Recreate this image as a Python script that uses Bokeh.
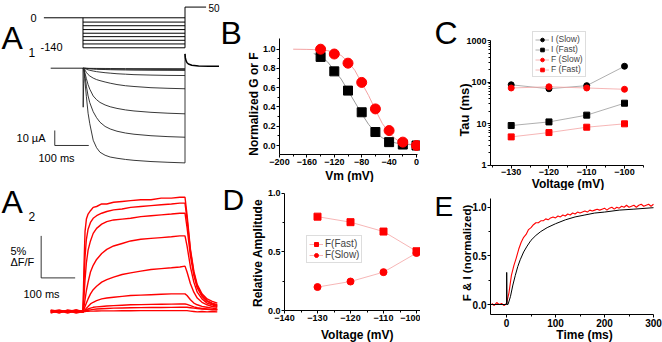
from bokeh.plotting import figure
from bokeh.layouts import row, column
from bokeh.models import Range1d, FixedTicker, NumeralTickFormatter, Label
from bokeh.embed import file_html
from bokeh.resources import INLINE
import math

FONT = "Liberation Sans"
LFONT = "Liberation Sans"

# ---------------- data ----------------
# A1: voltage protocol (mV) and currents (uA), time in ms
A1_STEP_MV = [0, -20, -37, -55, -72, -88, -105, -122, -140]
A1_HOLD_MV = 0
A1_POST_MV = 50
A1_T = [0, 2, 5, 10, 15, 20, 30, 40, 50, 65, 80, 100, 125, 150, 200, 250, 300]
A1_I = [
    [0, -1, -7, -19, -30, -37, -48, -53, -56, -58, -59.2, -60, -60.8, -61.4, -62.2, -62.7, -63.1],
    [0, -0.5, -4, -12, -18.5, -23, -29, -33, -36, -38.8, -40.5, -42, -43.2, -44, -45, -45.6, -46],
    [0, -0.3, -2.5, -7, -11, -14, -18.5, -21, -22.8, -24.5, -25.7, -26.8, -27.8, -28.5, -29.4, -30, -30.4],
    [0, -0.2, -1, -2.8, -4.2, -5.2, -6.6, -7.6, -8.3, -9.2, -10, -10.9, -11.7, -12.2, -13.0, -13.4, -13.7],
    [0, -0.1, -0.3, -0.7, -1.1, -1.4, -1.9, -2.3, -2.6, -3.0, -3.3, -3.7, -4.0, -4.3, -4.6, -4.8, -4.9],
    [0, 0, -0.1, -0.2, -0.3, -0.4, -0.55, -0.7, -0.8, -0.9, -1.0, -1.1, -1.2, -1.3, -1.4, -1.45, -1.5],
    [0, 0, -0.05, -0.1, -0.2, -0.25, -0.35, -0.42, -0.5, -0.55, -0.6, -0.67, -0.73, -0.78, -0.84, -0.88, -0.9],
    [0, 0, 0, -0.05, -0.08, -0.1, -0.13, -0.15, -0.17, -0.19, -0.21, -0.23, -0.25, -0.26, -0.28, -0.29, -0.3],
]
A1_CAP_T = [0, 0.6, 2, 4]
A1_CAP_I = [0, -26, -10, -1]
A1_TAIL_T = [300, 301, 303, 306, 310, 320, 340, 370, 400]
A1_TAIL_I = [9.5, 7, 5, 3.6, 2.8, 2.0, 1.5, 1.3, 1.3]
A1_BASE_T = [-95, 0]
A1_PROTO_T = [-115, 0, 300, 362]

# A2: fluorescence traces (% dF/F)
A2_T = [-95, -70, -45, -20, 0, 3, 6, 10, 15, 22, 30, 40, 55, 70, 90, 115, 140, 170, 200,
        230, 260, 285, 300, 306, 316, 326, 336, 350, 365, 380, 395]
A2_F = [
    [0.1, -0.1, 0.1, -0.1, 0.0, 5.5, 9.5, 11.0, 11.6, 12.0, 12.4, 12.5, 12.8, 12.8, 13.0, 13.1, 13.2, 13.3, 13.3,
     13.5, 13.5, 13.6, 13.6, 11.5, 7.4, 4.8, 3.2, 2.1, 1.5, 1.2, 1.0],
    [-0.1, 0.1, 0.0, 0.1, 0.0, 3.5, 6.5, 8.6, 9.8, 10.6, 11.1, 11.4, 11.7, 11.9, 12.1, 12.2, 12.4, 12.5, 12.6,
     12.7, 12.8, 12.9, 12.9, 11.0, 7.2, 4.6, 3.0, 1.9, 1.3, 1.0, 0.8],
    [0.0, 0.2, -0.1, 0.0, 0.1, 1.8, 3.8, 5.8, 7.3, 8.4, 9.3, 9.9, 10.4, 10.7, 10.9, 11.0, 11.1, 11.3, 11.4,
     11.5, 11.6, 11.7, 11.7, 10.0, 6.6, 4.3, 2.8, 1.8, 1.2, 0.9, 0.7],
    [0.2, 0.0, 0.1, -0.2, 0.0, 0.6, 1.4, 2.5, 3.5, 4.7, 5.5, 6.2, 6.9, 7.4, 7.8, 8.1, 8.4, 8.6, 8.7,
     8.8, 8.9, 9.0, 9.0, 7.8, 5.3, 3.5, 2.3, 1.5, 1.0, 0.8, 0.6],
    [-0.2, 0.1, -0.1, 0.2, 0.0, 0.3, 0.6, 1.0, 1.5, 2.1, 2.6, 3.0, 3.5, 3.8, 4.1, 4.4, 4.6, 4.8, 5.0,
     5.1, 5.2, 5.3, 5.4, 4.7, 3.3, 2.3, 1.6, 1.1, 0.8, 0.6, 0.5],
    [0.1, -0.2, 0.2, 0.0, -0.1, 0.1, 0.2, 0.4, 0.6, 0.9, 1.1, 1.3, 1.5, 1.6, 1.7, 1.8, 1.9, 1.95, 2.0,
     2.05, 2.1, 2.1, 2.1, 1.9, 1.4, 1.0, 0.8, 0.6, 0.5, 0.4, 0.3],
    [0.0, 0.1, -0.2, 0.1, 0.0, 0.05, 0.1, 0.2, 0.3, 0.4, 0.5, 0.55, 0.6, 0.65, 0.7, 0.75, 0.8, 0.82, 0.85,
     0.87, 0.88, 0.9, 0.9, 0.85, 0.7, 0.55, 0.45, 0.35, 0.3, 0.25, 0.2],
    [-0.1, 0.0, 0.1, -0.1, 0.1, 0.0, 0.05, 0.1, 0.15, 0.2, 0.25, 0.3, 0.33, 0.36, 0.4, 0.42, 0.44, 0.46, 0.47,
     0.48, 0.49, 0.5, 0.5, 0.5, 0.45, 0.4, 0.35, 0.3, 0.25, 0.2, 0.2],
    [0.1, -0.1, 0.0, 0.2, -0.1, 0.0, 0.0, 0.02, 0.03, 0.04, 0.05, 0.06, 0.07, 0.08, 0.08, 0.09, 0.09, 0.1, 0.1,
     0.1, 0.1, 0.1, 0.1, 0.1, 0.05, 0.0, -0.05, 0.0, -0.05, 0.0, -0.05],
]

# B: normalized G (black) and F (red) vs Vm
B_V = [-140, -120, -100, -80, -60, -40, -20, 0]
B_G = [0.92, 0.77, 0.57, 0.345, 0.14, 0.035, 0.01, 0.0]
B_F = [1.0, 0.95, 0.855, 0.655, 0.38, 0.155, 0.035, 0.0]
B_GFIT_V = [-150, -140, -130, -120, -110, -100, -90, -80, -70, -60, -50, -40, -30, -20, -10, 0]
B_GFIT = [0.955, 0.925, 0.87, 0.78, 0.69, 0.57, 0.45, 0.33, 0.22, 0.135, 0.08, 0.045, 0.026, 0.015, 0.009, 0.005]
B_FFIT_V = [-180, -170, -160, -150, -140, -130, -120, -110, -100, -90, -80, -70, -60, -50, -40, -30, -20, -10, 0]
B_FFIT = [1.0, 0.999, 0.998, 0.996, 0.993, 0.985, 0.97, 0.935, 0.87, 0.78, 0.65, 0.52, 0.37, 0.23, 0.13,
          0.065, 0.03, 0.013, 0.007]

# C: time constants (ms)
C_V = [-130, -120, -110, -100]
C_I_SLOW = [86, 69, 82, 240]
C_I_FAST = [9, 11, 16, 31]
C_F_SLOW = [72, 77, 72, 67]
C_F_FAST = [4.8, 6.1, 8.2, 9.9]

# D: relative amplitude
D_V = [-130, -120, -110, -100]
D_F_FAST = [0.80, 0.753, 0.673, 0.505]
D_F_SLOW = [0.20, 0.247, 0.327, 0.49]

# E: normalized F and I vs time (ms)
E_I_T = [-33, 0, 0.4, 1.2, 3, 8, 13, 18, 23, 28, 35, 42, 50, 60, 70, 83, 100, 120, 140, 160, 180, 200,
         230, 260, 300]
E_I = [0, 0, 0.33, 0.0, 0.0, 0.08, 0.2, 0.3, 0.39, 0.46, 0.54, 0.6, 0.66, 0.71, 0.75, 0.79, 0.83, 0.87,
       0.9, 0.92, 0.94, 0.95, 0.97, 0.98, 0.995]
E_F_T = list(range(-30, 301, 5))
E_F = [0.01, -0.01, 0.02, 0.0, 0.01, -0.01, 0.01,
       0.12, 0.30, 0.40, 0.48, 0.57, 0.64, 0.69, 0.72, 0.77, 0.79,
       0.82, 0.84, 0.84, 0.86, 0.86, 0.88, 0.87, 0.89, 0.90, 0.89,
       0.91, 0.90, 0.92, 0.91, 0.93, 0.92, 0.94, 0.93, 0.95, 0.94,
       0.95, 0.96, 0.95, 0.97, 0.96, 0.97, 0.98, 0.97, 0.98, 0.99,
       0.97, 0.99, 1.00, 0.98, 1.00, 0.99, 1.01, 1.00, 1.02, 1.00,
       1.01, 1.02, 1.00, 1.02, 1.03, 1.01, 1.02, 1.03, 1.01, 1.03]

# scale bars (data units)
A1_SB_T = [-83, -83, 17]
A1_SB_I = [-41.5, -51.5, -51.5]
A2_SB_T = [-123, -123, -23]
A2_SB_F = [9.0, 4.0, 4.0]

RED = "#ff0000"
PINK = "#f4a3a3"
GREY = "#9a9a9a"


def lin(p0, v0, p1, v1, q):
    """value at pixel q for a linear pixel<->value mapping through (p0,v0),(p1,v1)"""
    return v0 + (q - p0) * (v1 - v0) / (p1 - p0)


class Panel:
    def __init__(self, left, top, w, h):
        self.left, self.top, self.w, self.h = left, top, w, h


def txt(p, pan, px, py, s, size, align="left", baseline="middle", style="normal", font=FONT, angle=0.0):
    p.add_layout(Label(x=px - pan.left, y=pan.top + pan.h - py, x_units="screen", y_units="screen",
                       text=s, text_font=font, text_font_size=f"{size}px", text_align=align,
                       text_baseline=baseline, text_font_style=style, text_color="black", angle=angle))


def blank_fig(pan, xr, yr):
    p = figure(width=pan.w, height=pan.h, x_range=xr, y_range=yr, x_axis_location=None,
               y_axis_location=None, output_backend="svg", toolbar_location=None, min_border=0,
               outline_line_color=None)
    p.grid.visible = False
    return p


def axes_fig(pan, xr, yr, xloc, yloc, xb, yb, ylog=False, fs="9px"):
    p = figure(width=pan.w, height=pan.h, x_range=xr, y_range=yr, y_axis_type="log" if ylog else "linear",
               output_backend="svg", toolbar_location=None, min_border=0, outline_line_color=None)
    p.grid.visible = False
    p.xaxis.fixed_location = xloc
    p.yaxis.fixed_location = yloc
    p.xaxis.bounds = xb
    p.yaxis.bounds = yb
    for ax in p.xaxis + p.yaxis:
        ax.axis_line_color = "black"
        ax.axis_line_width = 1
        ax.major_tick_line_color = "black"
        ax.minor_tick_line_color = "black"
        ax.major_tick_out = 3
        ax.major_tick_in = 0
        ax.minor_tick_out = 2
        ax.minor_tick_in = 0
        ax.major_label_standoff = 1
        ax.major_label_text_font = FONT
        ax.major_label_text_font_style = "bold"
        ax.major_label_text_font_size = fs
        ax.major_label_text_color = "black"
    return p


def legend_style(p, loc, fs, h):
    p.legend.location = loc
    p.legend.label_text_font = FONT
    p.legend.label_text_font_size = fs
    p.legend.label_height = h
    p.legend.glyph_height = h
    p.legend.glyph_width = 14
    p.legend.spacing = 0
    p.legend.padding = 2
    p.legend.margin = 0
    p.legend.label_standoff = 2
    p.legend.border_line_color = "#bbbbbb"
    p.legend.border_line_width = 0.6


# ---------------- A1 ----------------
PA1 = Panel(0, 0, 220, 175)
a1 = blank_fig(PA1, Range1d(-242.6, 404.4), Range1d(-71.5, 45.1))
a1.extra_y_ranges = {"v": Range1d(-735.9, 80.7)}
a1.line(A1_PROTO_T[:2], [A1_HOLD_MV, A1_HOLD_MV], y_range_name="v", color="black", line_width=1)
a1.multi_line([[A1_PROTO_T[1], A1_PROTO_T[2]] for _ in A1_STEP_MV], [[v, v] for v in A1_STEP_MV],
              y_range_name="v", color="black", line_width=1)
a1.line([A1_PROTO_T[1], A1_PROTO_T[1]], [A1_HOLD_MV, min(A1_STEP_MV)], y_range_name="v", color="black", line_width=1)
a1.line([A1_PROTO_T[2], A1_PROTO_T[2], A1_PROTO_T[3]], [min(A1_STEP_MV), A1_POST_MV, A1_POST_MV],
        y_range_name="v", color="black", line_width=1)
a1.line(A1_BASE_T, [0, 0], color="#222222", line_width=1)
a1.multi_line([A1_T for _ in A1_I], A1_I, color="#222222", line_width=0.9)
a1.line(A1_CAP_T, A1_CAP_I, color="#222222", line_width=0.9)
a1.line([A1_T[-1], A1_T[-1]], [min(tr[-1] for tr in A1_I), A1_TAIL_I[0]], color="#222222", line_width=0.9)
a1.line(A1_TAIL_T, A1_TAIL_I, color="black", line_width=1.5)
a1.line(A1_SB_T, A1_SB_I, color="black", line_width=0.8)
txt(a1, PA1, 33, 17, "0", 11, align="center")
txt(a1, PA1, 40, 46, "-140", 11)
txt(a1, PA1, 219, 7, "50", 10, align="right")
txt(a1, PA1, 45, 137, "10 \u00b5A", 11, align="right")
txt(a1, PA1, 38, 157, "100 ms", 11)
txt(a1, PA1, 1, 37, "A", 32, font=LFONT)
txt(a1, PA1, 28, 51.5, "1", 12, font=LFONT)

# ---------------- A2 ----------------
PA2 = Panel(0, 175, 220, 167)
a2 = blank_fig(PA2, Range1d(-242.6, 404.4), Range1d(-3.69, 16.19))
a2.multi_line([A2_T for _ in A2_F], A2_F, color=RED, line_width=1.4)
a2.line(A2_SB_T, A2_SB_F, color="black", line_width=0.8)
txt(a2, PA2, 10, 250, "5%", 11)
txt(a2, PA2, 10, 261, "\u0394F/F", 11)
txt(a2, PA2, 23, 293, "100 ms", 11)
txt(a2, PA2, 1, 201, "A", 32, font=LFONT)
txt(a2, PA2, 28, 215.5, "2", 12, font=LFONT)

# ---------------- B ----------------
PB = Panel(220, 0, 200, 182)
bx = (279, -200, 416, 0)
by = (145, 0.0, 48.7, 1.0)
b = axes_fig(PB, Range1d(lin(*bx, PB.left), lin(*bx, PB.left + PB.w)),
             Range1d(lin(*by, PB.top + PB.h), lin(*by, PB.top)),
             lin(*by, 154), -200, (-200, 1.5), (lin(*by, 154), lin(*by, 38)))
b.xaxis.ticker = FixedTicker(ticks=[-200, -160, -120, -80, -40, 0], minor_ticks=[-180, -140, -100, -60, -20])
b.yaxis.ticker = FixedTicker(ticks=[0, 0.2, 0.4, 0.6, 0.8, 1.0], minor_ticks=[0.1, 0.3, 0.5, 0.7, 0.9])
b.yaxis.formatter = NumeralTickFormatter(format="0.0")
b.line(B_FFIT_V, B_FFIT, color=PINK, line_width=1)
b.line(B_GFIT_V, B_GFIT, color=GREY, line_width=1)
b.scatter(B_V, B_G, marker="square", size=9, color="black")
b.scatter(B_V, B_F, marker="circle", size=10, color=RED)
txt(b, PB, 253, 103.5, "Normalized G or F", 12, align="center", style="bold", angle=math.pi / 2)
txt(b, PB, 349, 175, "Vm (mV)", 12, align="center", style="bold")
txt(b, PB, 220, 32, "B", 32, font=LFONT)

# ---------------- C ----------------
PC = Panel(420, 0, 242, 190)
cx = (510.7, -130, 624, -100)
cy = (164.7, 0.0, 40, 3.0)   # pixel -> log10(value)
c = axes_fig(PC, Range1d(lin(*cx, PC.left), lin(*cx, PC.left + PC.w)),
             Range1d(10 ** lin(*cy, PC.top + PC.h), 10 ** lin(*cy, PC.top)),
             1, lin(*cx, 490), (lin(*cx, 490), lin(*cx, 643)), (1, 1000), ylog=True)
c.xaxis.ticker = FixedTicker(ticks=[-130, -120, -110, -100], minor_ticks=[-135, -125, -115, -105, -95])
c.yaxis.ticker = FixedTicker(ticks=[1, 10, 100, 1000],
                             minor_ticks=[2, 3, 4, 5, 6, 7, 8, 9, 20, 30, 40, 50, 60, 70, 80, 90,
                                          200, 300, 400, 500, 600, 700, 800, 900])
c.yaxis.formatter = NumeralTickFormatter(format="0")
c.line(C_V, C_I_SLOW, color=GREY, line_width=0.8, legend_label="I (Slow)")
c.scatter(C_V, C_I_SLOW, marker="circle", size=6, color="black", legend_label="I (Slow)")
c.line(C_V, C_I_FAST, color=GREY, line_width=0.8, legend_label="I (Fast)")
c.scatter(C_V, C_I_FAST, marker="square", size=6, color="black", legend_label="I (Fast)")
c.line(C_V, C_F_SLOW, color=PINK, line_width=0.8, legend_label="F (Slow)")
c.scatter(C_V, C_F_SLOW, marker="circle", size=6, color=RED, legend_label="F (Slow)")
c.line(C_V, C_F_FAST, color=PINK, line_width=0.8, legend_label="F (Fast)")
c.scatter(C_V, C_F_FAST, marker="square", size=6, color=RED, legend_label="F (Fast)")
legend_style(c, (532 - PC.left, PC.top + PC.h - 77), "8.5px", 9)
txt(c, PC, 464, 109.5, "Tau (ms)", 13, align="center", style="bold", angle=math.pi / 2)
txt(c, PC, 567.5, 183, "Voltage (mV)", 12, align="center", style="bold")
txt(c, PC, 434, 32.5, "C", 32, font=LFONT)

# ---------------- D ----------------
PD = Panel(220, 182, 200, 160)
dx = (284, -140, 416, -100)
dy = (310, 0.0, 192.7, 1.0)
d = axes_fig(PD, Range1d(lin(*dx, PD.left), lin(*dx, PD.left + PD.w)),
             Range1d(lin(*dy, PD.top + PD.h), lin(*dy, PD.top)),
             0, -140, (-140, lin(*dx, 420)), (0, 1.0))
d.xaxis.ticker = FixedTicker(ticks=[-140, -130, -120, -110, -100], minor_ticks=[-135, -125, -115, -105])
d.yaxis.ticker = FixedTicker(ticks=[0, 0.5, 1.0], minor_ticks=[0.25, 0.75])
d.yaxis.formatter = NumeralTickFormatter(format="0.0")
d.line(D_V, D_F_FAST, color=PINK, line_width=0.8, legend_label="F(Fast)")
d.scatter(D_V, D_F_FAST, marker="square", size=7, color=RED, legend_label="F(Fast)")
d.line(D_V, D_F_SLOW, color=PINK, line_width=0.8, legend_label="F(Slow)")
d.scatter(D_V, D_F_SLOW, marker="circle", size=7, color=RED, legend_label="F(Slow)")
legend_style(d, (306 - PD.left, PD.top + PD.h - 263), "10px", 10)
txt(d, PD, 257.5, 252.5, "Relative Amplitude", 12, align="center", style="bold", angle=math.pi / 2)
txt(d, PD, 356.7, 334, "Voltage (mV)", 12, align="center", style="bold")
txt(d, PD, 222, 199, "D", 30, font=LFONT)

# ---------------- E ----------------
PE = Panel(420, 190, 242, 152)
ex = (506, 0, 653, 300)
ey = (304, 0.0, 206.7, 1.0)
e = axes_fig(PE, Range1d(lin(*ex, PE.left), lin(*ex, PE.left + PE.w)),
             Range1d(lin(*ey, PE.top + PE.h), lin(*ey, PE.top)),
             lin(*ey, 314), lin(*ex, 490), (lin(*ex, 490), 301), (lin(*ey, 314), lin(*ey, 198)), fs="10px")
e.xaxis.ticker = FixedTicker(ticks=[0, 100, 200, 300], minor_ticks=[50, 150, 250])
e.yaxis.ticker = FixedTicker(ticks=[0, 0.5, 1.0], minor_ticks=[0.25, 0.75])
e.yaxis.formatter = NumeralTickFormatter(format="0.0")
e.line(E_F_T, E_F, color=RED, line_width=1.1)
e.line(E_I_T, E_I, color="black", line_width=1)
txt(e, PE, 466.5, 252.5, "F & I (normalized)", 11.5, align="center", style="bold", angle=math.pi / 2)
txt(e, PE, 584, 334, "Time (ms)", 12, align="center", style="bold")
txt(e, PE, 434, 206, "E", 28, font=LFONT)

layout = row(column(a1, a2), column(b, d), column(c, e))
open("out.html", "w").write(file_html(layout, INLINE, "figure"))
